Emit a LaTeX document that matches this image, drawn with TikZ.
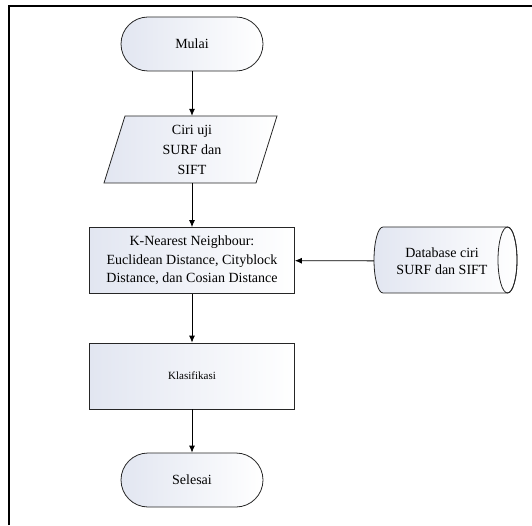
\documentclass[tikz,border=0pt]{standalone}
\usepackage{fontspec}
\setmainfont{Liberation Serif}
\usetikzlibrary{arrows.meta}
\definecolor{isiabu}{RGB}{226,230,241}
\tikzset{
    >={Latex[length=7pt,width=6pt]},
    isi/.style={left color=isiabu, right color=white, draw=black!85, line width=0.8pt},
    terminal/.style={isi, rounded corners=27pt, minimum width=142pt, minimum height=54pt},
    proses/.style={isi, minimum width=205pt, minimum height=66pt, align=center},
}
\begin{document}
\begin{tikzpicture}[x=1pt,y=1pt,font=\fontsize{14}{18.5}\selectfont]
    \useasboundingbox (0,0) rectangle (532,525);
    \draw[line width=1.1pt] (9,0) -- (9,519) -- (532,519);%外框只露出左边和上边
    \node[terminal] (mulai) at (192,481) {Mulai};
    \draw[isi] (104,342) -- (125,409) -- (277,409) -- (256,342) -- cycle;%输入用平行四边形
    \node[align=center,minimum height=67pt] (input) at (192,375.5) {Ciri uji\\[1.5pt]SURF dan\\[1.5pt]SIFT};
    \node[proses] (knn) at (192,264.5) {K-Nearest Neighbour:\\Euclidean Distance, Cityblock\\Distance, dan Cosian Distance};
    \node[proses,font=\fontsize{11}{13}\selectfont] (klasifikasi) at (192,149) {Klasifikasi};
    \node[terminal] (selesai) at (192,45) {Selesai};
    \draw[isi] (507.5,298) -- (383,298) arc[start angle=90,end angle=270,x radius=9,y radius=33]
        -- (507.5,232) arc[start angle=-90,end angle=90,x radius=9.5,y radius=33] -- cycle;%数据库圆柱
    \draw[draw=black!85,line width=0.8pt] (507.5,265) ellipse[x radius=9.5,y radius=33];
    \node[align=center,minimum width=136pt,minimum height=66pt,font=\fontsize{14}{17}\selectfont]
        (database) at (442,264) {Database ciri\\SURF dan SIFT};
    \draw[->,line width=0.8pt] (mulai) -- (input);
    \draw[->,line width=0.8pt] (input) -- (knn);
    \draw[->,line width=0.8pt] (knn) -- (klasifikasi);
    \draw[->,line width=0.8pt] (klasifikasi) -- (selesai);
    \draw[->,line width=0.8pt] (database) -- (knn);
\end{tikzpicture}
\end{document}
